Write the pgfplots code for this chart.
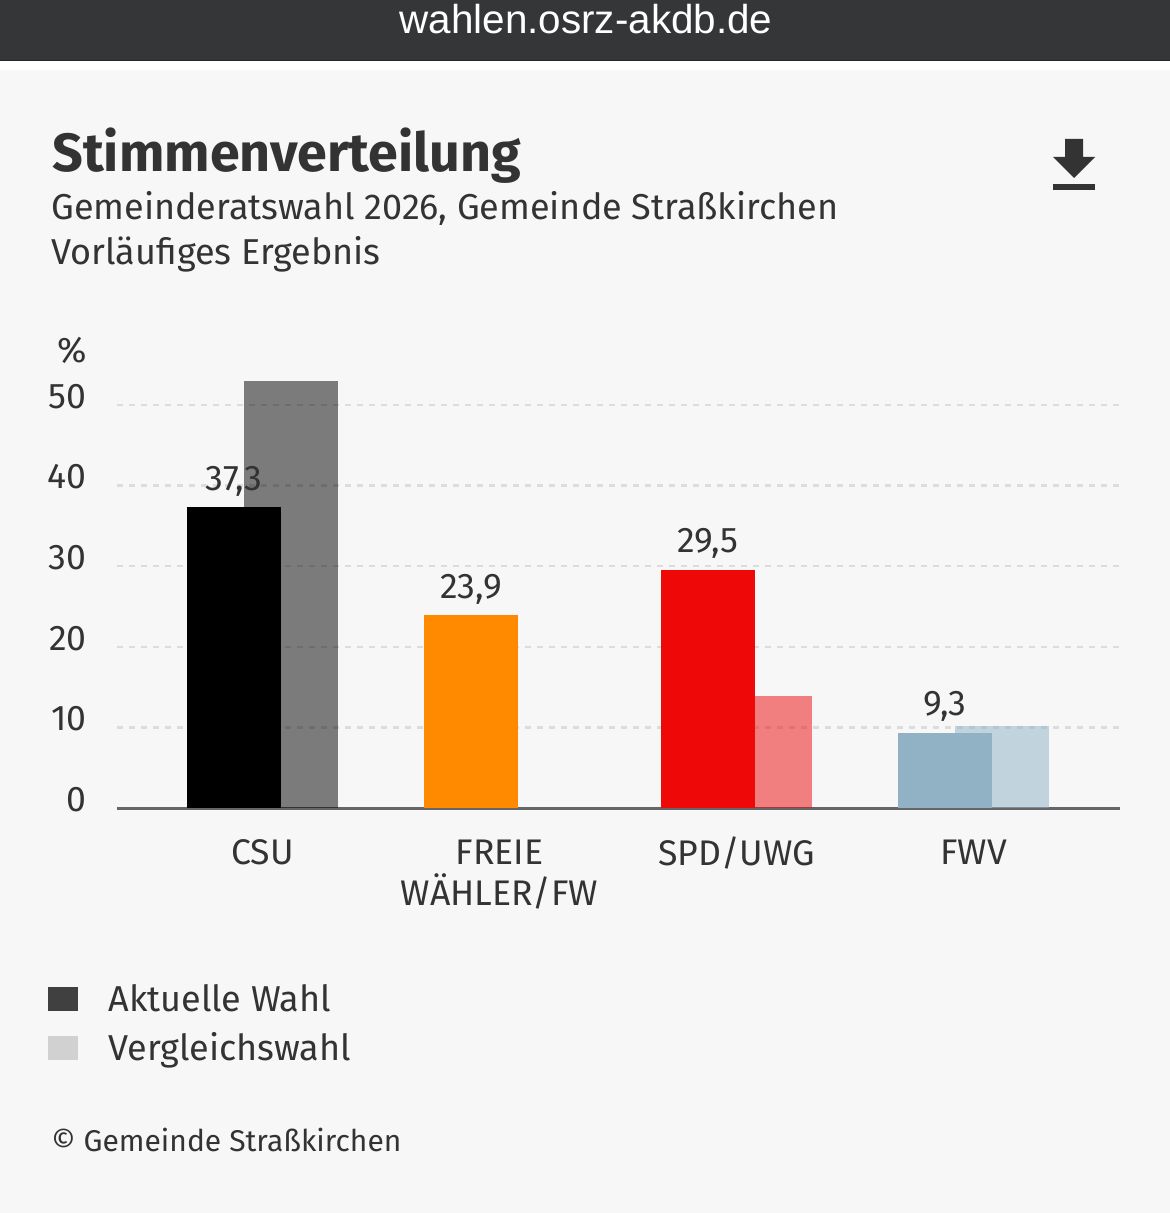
\documentclass[border=0pt]{standalone}
\usepackage{fontspec}
\setmainfont{Fira Sans}
\newfontfamily\urlfont{Liberation Sans}
\usepackage{pgfplots}
\pgfplotsset{compat=1.18}
\definecolor{txt}{HTML}{333333}
\definecolor{page}{HTML}{F7F7F7}
\definecolor{topbar}{HTML}{353638}
\definecolor{gridc}{HTML}{DCDCDC}
\definecolor{csu}{HTML}{000000}
\definecolor{fw}{HTML}{FF8A00}
\definecolor{spd}{HTML}{EE0808}
\definecolor{fwv}{HTML}{90B2C4}
\begin{document}
\begin{tikzpicture}[x=0.5pt,y=-0.5pt]
\useasboundingbox (0,0) rectangle (1170,1213);
\fill[white] (0,0) rectangle (1170,1213);
\fill[page] (0,70) rectangle (1170,1213);
\fill[topbar] (0,0) rectangle (1170,60);
\fill[black!85] (0,60) rectangle (1170,61);
\node[anchor=base,white,inner sep=0pt,font=\urlfont\fontsize{20.2}{24}\selectfont] at (586,34) {wahlen.osrz-akdb.de};
\node[anchor=base west,txt,inner sep=0pt,font=\bfseries\fontsize{26.9}{30}\selectfont] at (52,172) {Stimmenverteilung};
\node[anchor=base west,txt,inner sep=0pt,font=\fontsize{18}{22}\selectfont] at (51,220) {Gemeinderatswahl 2026, Gemeinde Straßkirchen};
\node[anchor=base west,txt,inner sep=0pt,font=\fontsize{18}{22}\selectfont] at (51,265) {Vorläufiges Ergebnis};
\node[anchor=base east,txt,inner sep=0pt,font=\fontsize{17.8}{20}\selectfont] at (87,363) {\%};
\node[anchor=base west,txt,inner sep=0pt,font=\fontsize{15}{18}\selectfont] at (51,1151) {© Gemeinde Straßkirchen};
% download icon
\fill[txt] (1065,139) -- (1083,139) -- (1083,157) -- (1095,157) -- (1074,178) -- (1053,157) -- (1065,157) -- cycle;
\fill[txt] (1053,184) rectangle (1095,190);
\begin{axis}[
    at={(58.5pt,-404pt)},
    anchor=south west,
    scale only axis,
    width=501.5pt,
    height=217.62pt,
    xmin=-0.614, xmax=3.618,
    ymin=0, ymax=54,
    clip=false,
    axis x line=bottom,
    axis y line=left,
    axis line style={-},
    y axis line style={draw=none},
    x axis line style={draw=black!60,line width=1.5pt},
    major tick length=0pt,
    xtick={0,1,2,3},
    xticklabels={{\strut CSU},{\strut FREIE\\[-2.5pt]\strut WÄHLER/FW},{\strut SPD/UWG},{\strut FWV}},
    xticklabel style={font=\fontsize{17.8}{20}\selectfont,text=txt,align=center,anchor=north,inner sep=0pt,yshift=-14pt},
    ytick={0,10,20,30,40,50},
    yticklabel style={font=\fontsize{17.8}{20}\selectfont,text=txt,anchor=east,inner sep=0pt,xshift=-15pt,yshift=4.3pt,/pgf/number format/assume math mode=true},
    ymajorgrids=true,
    grid style={gridc,line width=1.2pt,dash pattern=on 3pt off 3pt},
    ybar,
    bar width=47pt,
    legend style={at={(axis description cs:-0.0748,-0.395)},anchor=north west,draw=none,fill=none,
        font=\fontsize{18}{22}\selectfont,text=txt,nodes={inner sep=0pt},row sep=9pt},
    legend cell align=left,
    legend image code/.code={\fill[#1] (0pt,-6pt) rectangle (15pt,6pt);\path (30pt,0pt);},
    nodes near coords style={font=\fontsize{17.8}{20}\selectfont,text=txt,inner sep=0pt,yshift=5.5pt,
        /pgf/number format/.cd,use comma,fixed,fixed zerofill,precision=1,assume math mode=true},
]
% comparison election, half transparent so the grid shows through
\addplot[forget plot,bar shift=14.25pt,draw=none,fill=csu,fill opacity=0.5] coordinates {(0,53)};
\addplot[forget plot,bar shift=14.25pt,draw=none,fill=spd,fill opacity=0.5] coordinates {(2,13.9)};
\addplot[forget plot,bar shift=14.25pt,draw=none,fill=fwv,fill opacity=0.52] coordinates {(3,10.2)};
% current election
\addplot[forget plot,bar shift=-14.25pt,draw=none,fill=csu,nodes near coords] coordinates {(0,37.3)};
\addplot[forget plot,bar shift=-14.25pt,draw=none,fill=fw,nodes near coords] coordinates {(1,23.9)};
\addplot[forget plot,bar shift=-14.25pt,draw=none,fill=spd,nodes near coords] coordinates {(2,29.5)};
\addplot[forget plot,bar shift=-14.25pt,draw=none,fill=fwv,nodes near coords] coordinates {(3,9.3)};
\addlegendimage{fill=black!75,draw=none}
\addlegendentry{Aktuelle Wahl}
\addlegendimage{fill=black!18,draw=none}
\addlegendentry{Vergleichswahl}
\end{axis}
\end{tikzpicture}
\end{document}
